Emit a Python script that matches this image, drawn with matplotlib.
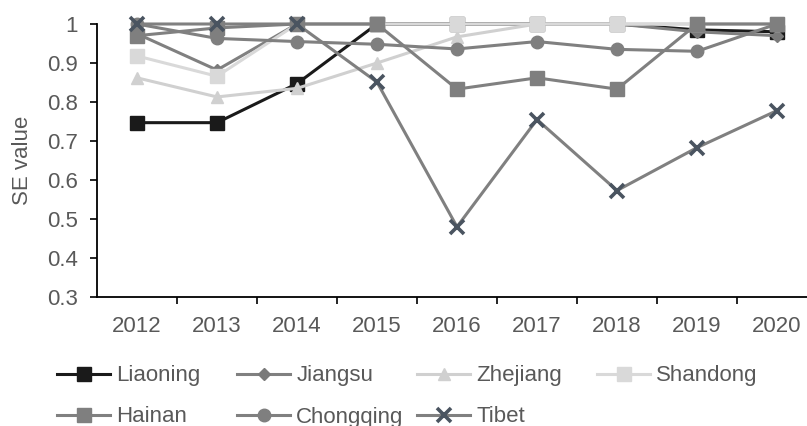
import matplotlib
matplotlib.use("Agg")
import matplotlib.pyplot as plt
from matplotlib.lines import Line2D

plt.rcParams['font.family'] = ['Liberation Sans', 'DejaVu Sans']

years = ["2012", "2013", "2014", "2015", "2016", "2017", "2018", "2019", "2020"]
liaoning = [0.747, 0.747, 0.847, 1.0, 1.0, 1.0, 1.0, 0.985, 0.98]
jiangsu = [0.975, 0.882, 1.0, 1.0, 1.0, 1.0, 1.0, 0.98, 0.97]
zhejiang = [0.862, 0.813, 0.835, 0.900, 0.967, 1.0, 1.0, 1.0, 1.0]
shandong = [0.918, 0.866, 1.0, 1.0, 1.0, 1.0, 1.0, 1.0, 1.0]
hainan = [0.970, 0.990, 1.0, 1.0, 0.833, 0.862, 0.833, 1.0, 1.0]
chongqing = [1.0, 0.963, 0.955, 0.948, 0.936, 0.955, 0.935, 0.930, 1.0]
tibet = [1.0, 1.0, 1.0, 0.851, 0.480, 0.755, 0.573, 0.683, 0.778]

series = [
    ("Liaoning", liaoning, dict(color="#1a1a1a", marker="s", ms=9.5, mfc="#1a1a1a", mec="#1a1a1a")),
    ("Jiangsu", jiangsu, dict(color="#808080", marker="D", ms=6.5, mfc="#7a7a7a", mec="#7a7a7a")),
    ("Zhejiang", zhejiang, dict(color="#d0d0d0", marker="^", ms=9, mfc="#d0d0d0", mec="#d0d0d0")),
    ("Shandong", shandong, dict(color="#d9d9d9", marker="s", ms=9.5, mfc="#d9d9d9", mec="#d9d9d9")),
    ("Hainan", hainan, dict(color="#808080", marker="s", ms=9.5, mfc="#7f7f7f", mec="#7f7f7f")),
    ("Chongqing", chongqing, dict(color="#808080", marker="o", ms=9, mfc="#7f7f7f", mec="#7f7f7f")),
    ("Tibet", tibet, dict(color="#808080", marker="x", ms=9.5, mew=2.6, mfc="#4a5460", mec="#4a5460")),
]

text_color = "#595959"
fs = 16

fig = plt.figure(figsize=(8.07, 4.26), dpi=100)
ax = fig.add_axes([97 / 807, (426 - 297) / 426, 720 / 807, 273 / 426])

x = list(range(len(years)))
for name, vals, st in series:
    ax.plot(x, vals, lw=2.2, clip_on=False, zorder=3, **st)

ax.set_xlim(-0.5, len(years) - 0.5)
ax.set_ylim(0.3, 1.0)
ax.set_yticks([0.3, 0.4, 0.5, 0.6, 0.7, 0.8, 0.9, 1.0])
ax.set_yticklabels(["0.3", "0.4", "0.5", "0.6", "0.7", "0.8", "0.9", "1"])
ax.set_xticks(x)
ax.set_xticklabels(years)
ax.set_xticks([i + 0.5 for i in x[:-1]], minor=True)

ax.tick_params(axis="x", which="major", length=0, pad=14, labelsize=fs, labelcolor=text_color)
ax.tick_params(axis="x", which="minor", length=5, width=1.2, color="black", direction="out")
ax.tick_params(axis="y", which="major", length=5, width=1.2, color="black", direction="out",
               pad=9, labelsize=fs, labelcolor=text_color)

for side in ("top", "right"):
    ax.spines[side].set_visible(False)
for side in ("left", "bottom"):
    ax.spines[side].set_color("black")
    ax.spines[side].set_linewidth(1.3)

ax.set_ylabel("SE value", fontsize=fs, color=text_color, labelpad=10)

# Legend laid out on a fixed grid, four entries per row
col_x = [57, 237, 417, 597]
row_y = [376, 417]
for i, (name, vals, st) in enumerate(series):
    h = Line2D([], [], lw=2.2, **st)
    fig.legend(handles=[h], labels=[name], loc="center left",
               bbox_to_anchor=(col_x[i % 4] / 807, 1 - row_y[i // 4] / 426),
               frameon=False, fontsize=fs, handlelength=2.4, handletextpad=0.27,
               borderpad=0, borderaxespad=0, labelcolor=text_color)

fig.savefig("out.png", dpi=100)
